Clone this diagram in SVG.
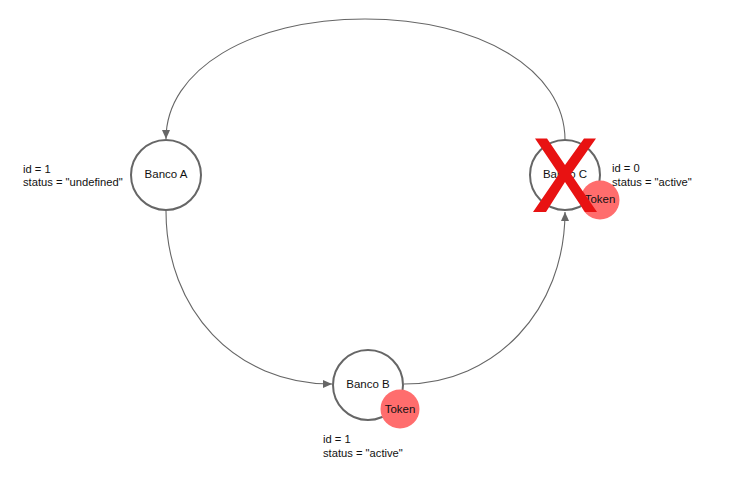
<svg xmlns="http://www.w3.org/2000/svg" width="750" height="482" viewBox="0 0 750 482">
<style>
text{font-family:"Liberation Sans",Arial,sans-serif;font-size:11.5px;fill:#111}
.c{text-anchor:middle}
.d{font-size:11.2px}
.n{fill:#fff;stroke:#666;stroke-width:2}
.t{fill:#ff6d6d}
.l{fill:none;stroke:#666;stroke-width:1.1}
.x{fill:#e81212}
</style>
<defs><marker id="a" markerWidth="10" markerHeight="9" refX="9" refY="4" orient="auto" markerUnits="userSpaceOnUse"><path d="M0 0L9 4L0 8Z" fill="#666"/></marker></defs>
<rect width="750" height="482" fill="#fff"/>
<g id="connectors">
<path class="l" marker-end="url(#a)" d="M565 140C565 70 480 19 365 19C250 19 166 70 166 139"/>
<path class="l" marker-end="url(#a)" d="M166 211C166 310 235 384 332 384"/>
<path class="l" marker-end="url(#a)" d="M404 384C495 384 565 310 565 212"/>
</g>
<g id="banco-a"><circle class="n" cx="166" cy="175" r="35"/><text class="c" x="166" y="178">Banco A</text></g>
<g id="banco-a-label"><text class="d" x="23" y="173">id = 1</text><text class="d" x="23" y="186">status = "undefined"</text></g>
<g id="banco-b"><circle class="n" cx="368" cy="385" r="35"/><text class="c" x="368" y="388">Banco B</text><circle class="t" cx="400" cy="409" r="19.5"/><text class="c" x="400" y="413">Token</text></g>
<g id="banco-b-label"><text class="d" x="323" y="443">id = 1</text><text class="d" x="323" y="457">status = "active"</text></g>
<g id="banco-c"><circle class="n" cx="565" cy="175" r="35"/><text class="c" x="565" y="178">Banco C</text><circle class="t" cx="600" cy="200" r="19.5"/><text class="c" x="600" y="203">Token</text></g>
<g id="banco-c-label"><text class="d" x="612" y="172">id = 0</text><text class="d" x="612" y="186">status = "active"</text></g>
<g id="cross"><polygon class="x" points="535,138.500 547,138.500 565,165 584,138.500 596,138.500 571,174 597,212 585,212 565,182 546,212 533,212 559,174"/></g>
</svg>
